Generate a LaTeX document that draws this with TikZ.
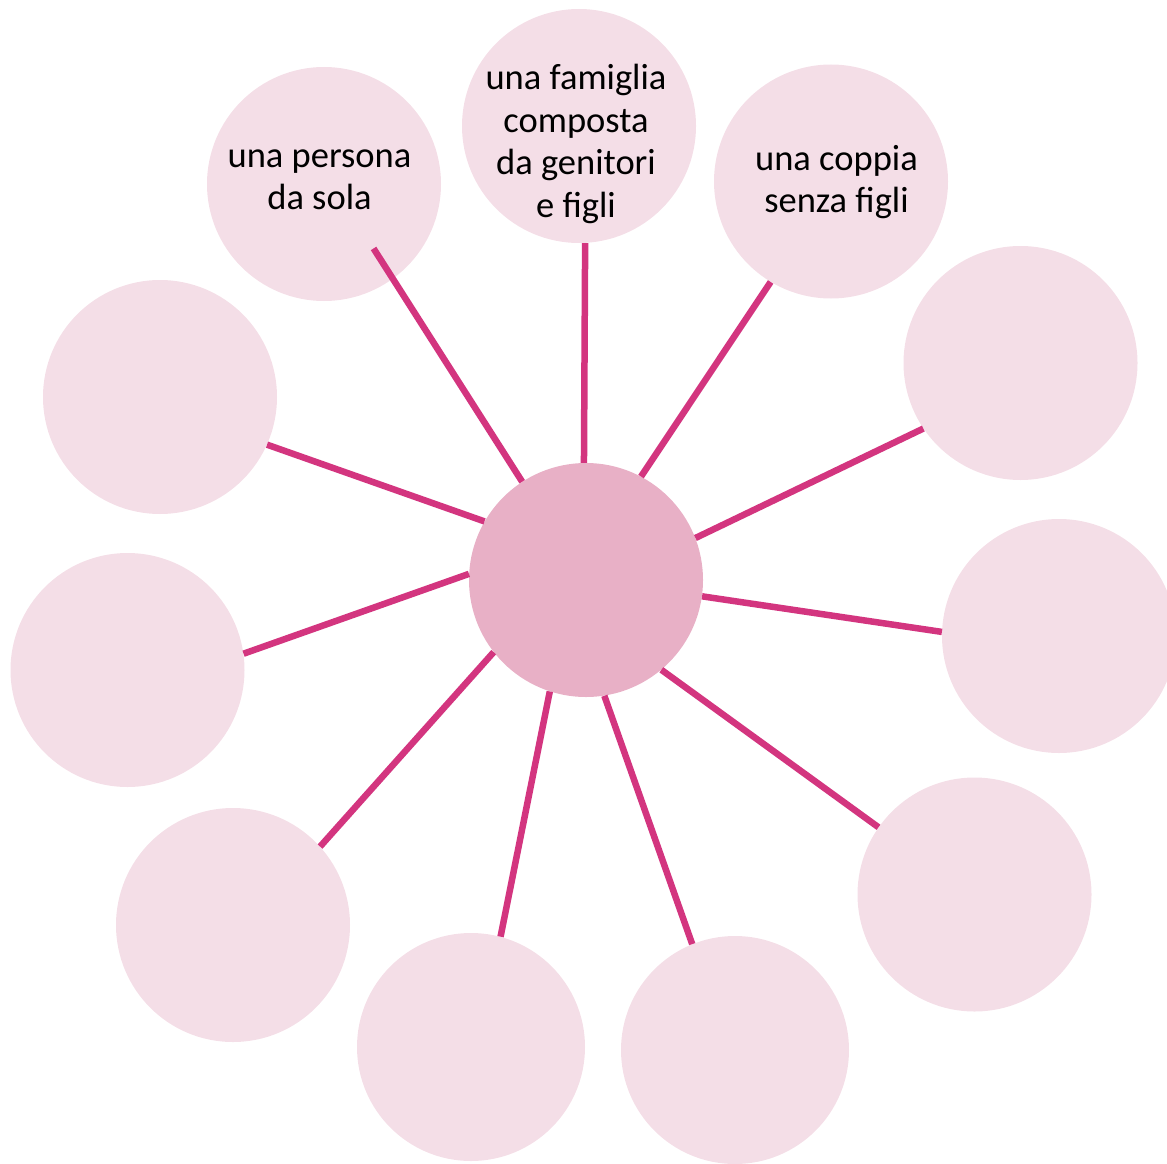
\documentclass[tikz,border=0pt]{standalone}
\usepackage{fontspec}
\setmainfont{Carlito}
\definecolor{outerfill}{HTML}{F4DEE7}
\definecolor{centerfill}{HTML}{E8B0C6}
\definecolor{linkcol}{HTML}{D3357F}
\begin{document}
\begin{tikzpicture}[x=1pt,y=-1pt,
  bubble/.style={circle,fill=outerfill,draw=none,inner sep=0pt,minimum size=234pt},
  smallbubble/.style={bubble,minimum size=228pt},
  hub/.style={circle,fill=centerfill,draw=none,inner sep=0pt,minimum size=234pt},
  link/.style={draw=linkcol,line width=6.5pt},
  txt/.style={align=center,inner sep=0pt,font=\fontsize{36.5pt}{42.5pt}\selectfont,text=black}]
\useasboundingbox (0,0) rectangle (1167,1164);
\node[hub] (c) at (586,580) {};
\node[bubble] (n1) at (324,184) {};
\node[bubble] (n2) at (579,126) {};
\node[bubble] (n3) at (831,181.5) {};
\node[bubble] (n4) at (1020.5,363) {};
\node[bubble] (n5) at (1059,636) {};
\node[bubble] (n6) at (974.5,894.5) {};
\node[smallbubble] (n7) at (735,1050) {};
\node[smallbubble] (n8) at (471,1047) {};
\node[bubble] (n9) at (233,925) {};
\node[bubble] (n10) at (127.5,670) {};
\node[bubble] (n11) at (160,397) {};
\node[txt] (t1) at (319.5,180) {una persona\\da sola};
\node[txt] (t2) at (576,144) {una famiglia\\composta\\da genitori\\e figli};
\node[txt] (t3) at (836.5,182) {una coppia\\senza figli};
\draw[link,shorten >=-36pt] (c.123.4) -- (n1.-54.5);
\draw[link] (c.91) -- (n2.-87.5);
\draw[link] (c.62.3) -- (n3.-121.8);
\draw[link] (c.21.9) -- (n4.-146.3);
\draw[link] (c.-8.3) -- (n5.178.5);
\draw[link] (c.-50.6) -- (n6.145.4);
\draw[link] (c.-81.7) -- (n7.112.4);
\draw[link] (c.-108.1) -- (n8.75.5);
\draw[link] (c.-142.3) -- (n9.42.9);
\draw[link] (c.177.5) -- (n10.8);
\draw[link] (c.150.4) -- (n11.-24.2);
\end{tikzpicture}
\end{document}
